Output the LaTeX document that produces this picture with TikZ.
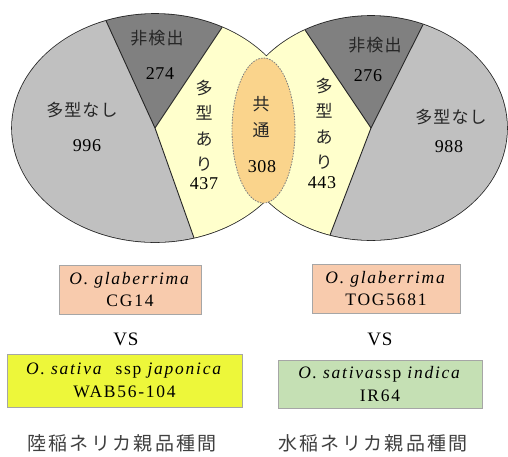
\documentclass[tikz,border=0pt]{standalone}
\usepackage{fontspec}
\setmainfont{Liberation Serif}
\newfontfamily\jp{Noto Sans CJK JP}
\newfontfamily\jpwide[LetterSpace=6]{Noto Sans CJK JP}
\newfontfamily\jpbottom[LetterSpace=12]{Noto Sans CJK JP}
\newfontfamily\latwide[LetterSpace=10]{Liberation Serif}
\newfontfamily\latnum[LetterSpace=4]{Liberation Serif}
\newfontfamily\latvs[LetterSpace=4]{Liberation Serif}
\definecolor{lgray}{HTML}{C0C0C0}
\definecolor{dgray}{HTML}{808080}
\definecolor{pyellow}{HTML}{FFFFCC}
\definecolor{corange}{HTML}{FAD48C}
\definecolor{salmon}{HTML}{F8CBAD}
\definecolor{byellow}{HTML}{EDF73A}
\definecolor{lgreen}{HTML}{C5E0B4}
\definecolor{txt}{HTML}{262626}
\definecolor{btxt}{HTML}{404040}
\tikzset{
  divline/.style={line width=0.9pt, draw=black!85},
  jlab/.style={font=\jpwide\fontsize{17}{20}\selectfont, text=txt, inner sep=0pt},
  vlab/.style={font=\jp\fontsize{17}{25.5}\selectfont, text=txt, align=center, inner sep=0pt},
  num/.style={font=\latnum\fontsize{18}{20}\selectfont, text=black, inner sep=0pt},
  box/.style={draw=black!35, line width=0.7pt, align=center, inner sep=0pt,
    font=\latwide\fontsize{17.5}{22.5}\selectfont},
  vs/.style={font=\latvs\fontsize{19}{20}\selectfont, inner sep=0pt},
  blab/.style={font=\jpbottom\fontsize{19}{22}\selectfont, text=btxt, inner sep=0pt}
}
\begin{document}
\begin{tikzpicture}[x=1pt,y=-1pt]
\useasboundingbox (0,0) rectangle (508,456);
\coordinate (c1) at (155,128);
\coordinate (c2) at (371,128);
% outlines (inner half covered by fills)
\draw[line width=1.6pt, black!85] (c1) ellipse [x radius=143, y radius=114];
\draw[line width=1.6pt, black!85] (c2) ellipse [x radius=136, y radius=112];
% left pie
\fill[lgray] (c1) -- ++(74.2:143 and 114) arc[start angle=74.2, end angle=250, x radius=143, y radius=114] -- cycle;
\fill[dgray] (c1) -- ++(250:143 and 114) arc[start angle=250, end angle=298, x radius=143, y radius=114] -- cycle;
\fill[pyellow] (c1) -- ++(298:143 and 114) arc[start angle=298, end angle=434.2, x radius=143, y radius=114] -- cycle;
% right pie
\fill[pyellow] (c2) -- ++(107.5:136 and 112) arc[start angle=107.5, end angle=241, x radius=136, y radius=112] -- cycle;
\fill[dgray] (c2) -- ++(241:136 and 112) arc[start angle=241, end angle=292.5, x radius=136, y radius=112] -- cycle;
\fill[lgray] (c2) -- ++(292.5:136 and 112) arc[start angle=292.5, end angle=467.5, x radius=136, y radius=112] -- cycle;
% lens yellow on top
\begin{scope}
  \clip (c1) ellipse [x radius=143, y radius=114];
  \fill[pyellow] (c2) ellipse [x radius=136, y radius=112];
\end{scope}
% dividers
\draw[divline] (c1) -- ++(250:143 and 114);
\draw[divline] (c1) -- ++(298:143 and 114);
\draw[divline] (c1) -- ++(74.2:143 and 114);
\draw[divline] (c2) -- ++(241:136 and 112);
\draw[divline] (c2) -- ++(292.5:136 and 112);
\draw[divline] (c2) -- ++(107.5:136 and 112);
% common ellipse
\draw[fill=corange, draw=black!50, line width=0.8pt, dash pattern=on 1.6pt off 1.2pt] (263.5,130.5) ellipse [x radius=31.5, y radius=72.5];
% left labels
\node[jlab] (lnd) at (157,38) {非検出};
\node[num] (lndn) at (160,74) {274};
\node[jlab] (lnp) at (82,110) {多型なし};
\node[num] (lnpn) at (87,146) {996};
\node[vlab] (lp) at (204,126) {多\\型\\あ\\り};
\node[num] (lpn) at (204,184) {437};
% common
\node[vlab] (cm) at (261,117) {共\\通};
\node[num] (cmn) at (262,167) {308};
% right labels
\node[jlab] (rnd) at (375,45) {非検出};
\node[num] (rndn) at (368,76) {276};
\node[vlab] (rp) at (324,124) {多\\型\\あ\\り};
\node[num] (rpn) at (322,183) {443};
\node[jlab] (rnp) at (451,117) {多型なし};
\node[num] (rnpn) at (449,147) {988};
% boxes
\node[box, fill=salmon, minimum width=142, minimum height=49] (b1) at (130,289.5) {\textit{O. glaberrima}\\CG14};
\node[box, fill=salmon, minimum width=148, minimum height=49] (b2) at (386,288.5) {\textit{O. glaberrima}\\TOG5681};
\node[vs] (vs1) at (126,339) {VS};
\node[vs] (vs2) at (380,339) {VS};
\node[box, fill=byellow, minimum width=235, minimum height=53] (b3) at (124.5,380.5) {\textit{O. sativa}\ \ ssp \textit{japonica}\\WAB56-104};
\node[box, fill=lgreen, minimum width=204, minimum height=48] (b4) at (380,384) {\textit{O. sativa}ssp \textit{indica}\\IR64};
% bottom
\node[blab] (t1) at (122,443) {陸稲ネリカ親品種間};
\node[blab] (t2) at (373,443) {水稲ネリカ親品種間};
\end{tikzpicture}
\end{document}
